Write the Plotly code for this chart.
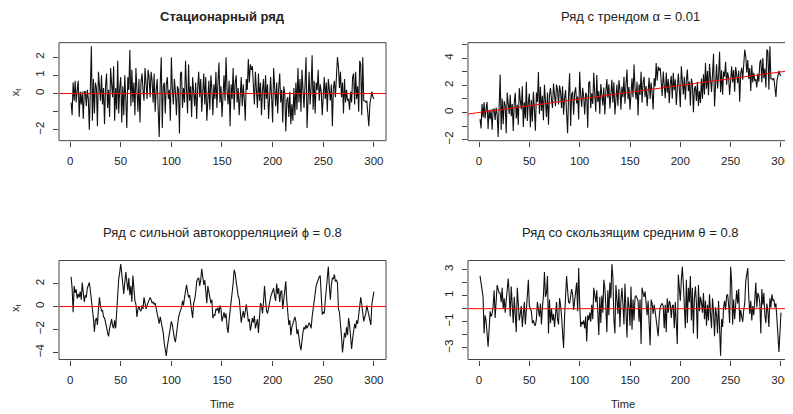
import plotly.graph_objects as go

# ---------------- data ----------------
time = list(range(1, 301))

stationary = [
    -0.5, -1.2, 0.6, -0.4, 0.7, -0.5, 0.2, 0.7, -1.3, 0.1,
    -0.6, 0.1, -1.4, 0.1, 0.1, -0.7, 0.2, -0.3, -2.0, 0.4,
    2.6, -1.5, 0.8, -1.1, 0.6, 0.3, -1.8, 1.2, 0.5, -0.4,
    1.0, -0.6, 0.3, -1.7, 0.4, 1.1, -0.8, 0.2, -1.3, 1.4,
    0.5, -0.2, 1.5, -1.5, 0.3, -0.9, 1.8, -1.1, 0.3, 0.9,
    -1.6, 0.4, -1.2, 1.0, -0.3, -1.9, 0.9, 0.2, 2.4, -0.7,
    1.3, -0.5, 0.6, -1.2, 1.4, 0.4, -1.0, 0.8, -1.6, 0.6,
    1.1, 0.2, -0.4, 1.4, 0.6, -0.3, 1.3, 0.9, -0.2, 1.2,
    0.7, -0.5, 1.1, -1.0, 0.2, 0.8, -0.9, -2.4, 0.5, 2.0,
    -1.9, 0.4, 0.6, -1.1, 0.5, 0.9, -0.3, 0.2, -1.5, 2.0,
    0.3, -0.6, 0.8, 0.1, -1.2, 0.4, 0.2, -2.2, 1.1, 1.2,
    -0.8, 0.3, -0.5, 1.8, 0.2, -1.1, 1.6, -0.4, 0.4, -1.3,
    0.9, 0.1, -0.7, 0.6, -1.4, 0.3, 1.2, -0.2, 0.8, -1.0,
    0.5, 1.1, -0.6, 0.9, -1.5, 0.2, 0.7, -0.9, 1.0, 0.3,
    -1.2, 0.5, -0.3, 1.2, -0.8, 0.6, 1.7, -0.5, 0.4, -1.3,
    0.3, 1.0, -0.4, 2.0, 0.2, -0.6, 0.7, -1.8, 0.5, -0.3,
    1.4, -0.9, 0.6, 1.0, -0.5, 0.3, -1.2, 0.4, 0.9, -0.7,
    0.5, -0.3, -1.5, 0.8, 0.2, 1.9, 0.6, 1.6, 1.3, 1.5,
    0.4, -0.6, 1.2, 0.3, -0.8, 1.1, -0.4, 0.6, -1.2, 0.2,
    0.8, -0.9, 1.0, -0.3, 0.5, -1.4, 0.4, 0.9, -0.2, -1.6,
    1.4, 0.1, -0.7, 0.6, -1.1, 0.3, 1.1, -0.5, 0.2, -1.6,
    0.4, 0.0, -2.1, -0.4, -0.2, -1.3, 0.1, -1.7, -0.6, -1.5,
    0.3, -1.2, 0.6, -0.9, 1.4, -0.5, 0.8, -1.0, 1.3, 0.2,
    -0.8, 0.5, 2.0, -1.9, 0.4, 1.2, -0.6, 0.3, 2.1, -0.9,
    0.7, -1.1, 0.6, 0.2, 1.3, -0.4, 0.5, 0.1, -1.2, 0.4,
    0.9, -0.3, 0.6, -1.0, 0.8, 0.2, -0.4, 0.5, -1.8, 0.3,
    0.7, -0.2, 0.9, 2.0, 1.5, 0.3, 1.2, -0.2, 0.6, -1.1,
    0.8, -0.5, 0.2, -0.4, -0.3, -0.9, 0.1, -0.5, 0.9, 1.1,
    -0.6, 1.2, -0.3, 0.4, -1.0, 1.8, 1.6, -1.2, 2.0, -0.4,
    -0.4, -0.5, -0.4, -1.2, -1.8, -0.6, -0.2, 0.1, -0.2, -0.3,
]

trend = [
    -0.49, -1.18, 0.63, -0.36, 0.75, -0.44, 0.27, 0.78, -1.21, 0.20,
    -0.49, 0.22, -1.27, 0.24, 0.25, -0.54, 0.37, -0.12, -1.81, 0.60,
    2.81, -1.28, 1.03, -0.86, 0.85, 0.56, -1.53, 1.48, 0.79, -0.10,
    1.31, -0.28, 0.63, -1.36, 0.75, 1.46, -0.43, 0.58, -0.91, 1.80,
    0.91, 0.22, 1.93, -1.06, 0.75, -0.44, 2.27, -0.62, 0.79, 1.40,
    -1.09, 0.92, -0.67, 1.54, 0.25, -1.34, 1.47, 0.78, 2.99, -0.10,
    1.91, 0.12, 1.23, -0.56, 2.05, 1.06, -0.33, 1.48, -0.91, 1.30,
    1.81, 0.92, 0.33, 2.14, 1.35, 0.46, 2.07, 1.68, 0.59, 2.00,
    1.51, 0.32, 1.93, -0.16, 1.05, 1.66, -0.03, -1.52, 1.39, 2.90,
    -0.99, 1.32, 1.53, -0.16, 1.45, 1.86, 0.67, 1.18, -0.51, 3.00,
    1.31, 0.42, 1.83, 1.14, -0.15, 1.46, 1.27, -1.12, 2.19, 2.30,
    0.31, 1.42, 0.63, 2.94, 1.35, 0.06, 2.77, 0.78, 1.59, -0.10,
    2.11, 1.32, 0.53, 1.84, -0.15, 1.56, 2.47, 1.08, 2.09, 0.30,
    1.81, 2.42, 0.73, 2.24, -0.15, 1.56, 2.07, 0.48, 2.39, 1.70,
    0.21, 1.92, 1.13, 2.64, 0.65, 2.06, 3.17, 0.98, 1.89, 0.20,
    1.81, 2.52, 1.13, 3.54, 1.75, 0.96, 2.27, -0.22, 2.09, 1.30,
    3.01, 0.72, 2.23, 2.64, 1.15, 1.96, 0.47, 2.08, 2.59, 1.00,
    2.21, 1.42, 0.23, 2.54, 1.95, 3.66, 2.37, 3.38, 3.09, 3.30,
    2.21, 1.22, 3.03, 2.14, 1.05, 2.96, 1.47, 2.48, 0.69, 2.10,
    2.71, 1.02, 2.93, 1.64, 2.45, 0.56, 2.37, 2.88, 1.79, 0.40,
    3.41, 2.12, 1.33, 2.64, 0.95, 2.36, 3.17, 1.58, 2.29, 0.50,
    2.51, 2.12, 0.03, 1.74, 1.95, 0.86, 2.27, 0.48, 1.59, 0.70,
    2.51, 1.02, 2.83, 1.34, 3.65, 1.76, 3.07, 1.28, 3.59, 2.50,
    1.51, 2.82, 4.33, 0.44, 2.75, 3.56, 1.77, 2.68, 4.49, 1.50,
    3.11, 1.32, 3.03, 2.64, 3.75, 2.06, 2.97, 2.58, 1.29, 2.90,
    3.41, 2.22, 3.13, 1.54, 3.35, 2.76, 2.17, 3.08, 0.79, 2.90,
    3.31, 2.42, 3.53, 4.64, 4.15, 2.96, 3.87, 2.48, 3.29, 1.60,
    3.51, 2.22, 2.93, 2.34, 2.45, 1.86, 2.87, 2.28, 3.69, 3.90,
    2.21, 4.02, 2.53, 3.24, 1.85, 4.66, 4.47, 1.68, 4.89, 2.50,
    2.51, 2.42, 2.53, 1.74, 1.15, 2.36, 2.77, 3.08, 2.79, 2.70,
]
alpha = 0.01

ar_series = [
    2.6, 1.6, -0.5, 1.8, 1.2, 1.5, 0.7, 1.1, 0.8, 1.3,
    0.6, 2.1, 1.2, 0.4, 1.0, 0.8, 1.6, 1.8, 2.1, 1.4,
    0.6, 0.1, -1.0, -2.2, -1.2, -1.0, -1.6, -0.2, 0.8, 0.1,
    -0.4, -0.3, -0.9, -1.0, -1.3, -1.8, -2.3, -2.6, -1.9, -1.5,
    -1.1, -1.7, -1.9, -1.2, -1.9, -0.5, 1.5, 2.4, 3.0, 3.7,
    2.9, 1.8, 1.1, 2.1, 3.0, 2.2, 1.4, 2.5, 1.0, 1.8,
    0.4, 2.7, 1.0, 0.5, 0.2, -0.9, -0.2, 0.0, -0.3, -0.4,
    0.1, -0.2, 0.8, 0.3, -0.2, 0.1, 0.3, 0.5, 0.8, 0.6,
    0.3, 0.4, 0.2, 0.3, -0.2, -0.8, -1.2, -1.5, -0.9, -1.3,
    -1.9, -2.3, -3.2, -3.9, -4.3, -3.5, -3.0, -2.6, -1.8, -1.3,
    -1.6, -2.4, -2.8, -3.1, -2.2, -1.4, -1.0, -0.6, -0.3, -0.1,
    0.5, 0.1, 0.8, 1.5, 1.9, 1.3, 0.8, 1.0, 0.2, -0.2,
    -1.0, 0.3, 0.6, 1.2, 2.2, 2.4, 2.5, 1.8, 2.3, 3.3,
    2.6, 1.9, 2.3, 1.0, 0.3, 1.8, 1.2, 0.9, 0.3, 0.6,
    -1.0, -0.7, -0.8, -0.2, -0.3, -0.1, -0.6, 0.1, -0.2, -1.3,
    -0.9, -0.5, -1.0, -0.6, -1.8, -2.3, -1.2, -0.4, 0.2, 0.8,
    2.0, 3.2, 2.9, 2.2, 1.4, 0.9, 0.7, -0.2, -1.4, -0.8,
    -0.4, -1.0, -0.3, 0.2, -0.5, -1.3, -1.1, -2.1, -1.6, -1.0,
    -1.4, -0.8, -1.9, -1.5, -1.1, -2.3, -0.7, 0.3, 0.1, -0.6,
    0.4, 1.8, 0.6, -0.4, -0.6, 0.0, 0.5, 0.8, 1.1, 1.4,
    1.6, 0.9, 0.5, 2.0, 1.1, 1.6, 0.4, 1.3, 1.4, -0.2,
    0.6, 1.2, 2.2, 0.5, -0.3, -1.6, -1.2, -2.5, -1.8, -1.5,
    -1.2, -0.9, -1.3, -2.4, -2.0, -2.8, -3.4, -3.8, -2.9, -2.2,
    -1.8, -2.0, -1.6, -1.9, -1.7, -1.4, -1.6, -1.9, -0.9, -0.2,
    0.7, 1.3, 1.8, 2.1, 2.4, 2.6, 2.7, 1.4, -0.7, -0.5,
    -0.6, 0.5, 1.7, 2.6, 3.5, 1.8, 0.6, 1.9, 2.5, 2.4,
    2.8, 2.2, 2.3, 2.1, -0.2, -0.5, -1.4, -2.6, -4.0, -3.3,
    -2.3, -2.7, -1.8, -2.5, -1.0, -1.6, -2.4, -3.7, -2.8, -2.3,
    -1.5, -1.9, -1.2, -1.5, -0.5, 0.1, 0.8, 0.2, -0.5, -1.3,
    -0.9, -0.6, 0.1, -0.4, -0.9, -1.2, -1.6, 0.2, 0.8, 1.3,
]

ma_series = [
    2.5, 1.9, 1.2, 0.9, -1.9, -0.5, -0.9, -1.8, -2.9, -1.6,
    -0.2, -0.6, -0.4, 0.2, 1.4, -0.7, 0.3, 1.8, 1.5, 1.2,
    1.2, 0.5, 1.6, 0.0, 0.8, -0.3, 0.6, 1.5, 2.3, 1.1,
    -0.6, 1.7, 0.4, -1.1, 0.9, -0.2, -1.8, 1.6, 0.2, -0.9,
    -0.4, 0.2, -1.4, 0.1, 0.5, -1.2, 0.3, 1.0, 2.2, 0.2,
    0.0, -0.2, -1.1, -0.9, -1.2, -1.3, -0.8, 0.5, -0.1, -0.6,
    0.4, -1.2, 0.1, 1.0, 2.8, 0.9, 1.2, 2.5, -1.9, 0.7,
    -1.1, 0.0, -0.9, -0.4, -1.4, -0.5, 0.5, -0.8, -1.2, 0.8,
    0.3, -0.6, -1.8, -3.0, -0.6, 1.0, 2.5, 1.4, 0.5, 0.4,
    0.9, 1.5, 1.1, -0.1, 0.6, 1.4, 2.0, -0.2, 3.1, 0.4,
    -1.4, -1.0, -1.2, -0.9, -1.5, -0.6, -2.5, -0.5, -0.9, -0.3,
    -1.0, 0.3, -0.8, 1.6, 1.2, 0.5, 1.4, -0.2, -2.0, 0.9,
    -1.1, 1.0, -0.3, 2.2, 1.6, 0.2, -1.8, 1.4, -0.5, 2.0,
    0.8, 3.4, 2.4, -0.8, -1.9, 1.8, 0.9, -0.4, 1.5, -1.4,
    0.6, 1.6, 0.3, -1.2, 1.9, -0.5, -2.2, 0.9, 0.2, -1.3,
    1.7, -1.6, 0.7, -0.9, 0.9, 1.0, 0.7, 0.6, -1.0, 0.7,
    -2.7, 1.6, 1.2, 0.9, 1.3, 0.4, -0.5, 0.6, -0.8, -2.8,
    0.7, 0.4, -0.4, 0.3, -0.2, -0.9, -1.6, -2.1, -0.7, 0.1,
    0.3, 0.4, 0.2, -1.5, 0.3, -1.8, 0.8, -0.3, 0.6, 0.4,
    -0.7, 0.2, 0.3, -1.5, 0.5, -1.0, -2.7, 2.6, 1.8, 0.6,
    2.2, 3.2, 1.9, 0.3, -1.5, 2.2, -1.1, 1.6, 0.5, 2.5,
    -0.9, 1.6, -1.9, 0.8, 1.7, 0.4, -2.3, 1.8, -0.2, 0.9,
    0.5, -0.3, 1.2, -0.8, 0.6, -1.3, 0.3, -0.9, 1.1, -0.4,
    -1.5, 0.8, -0.2, -2.1, 0.1, -0.5, -1.9, 0.6, -1.2, -3.6,
    -0.8, -1.4, 0.1, 0.6, -0.1, 1.0, 1.1, 0.3, -1.1, 3.2,
    2.0, -1.2, 0.7, -0.8, 0.3, 1.4, 0.4, 1.5, -1.0, -0.1,
    -0.6, -1.0, -0.1, 0.4, 2.1, 2.8, 3.1, 0.9, -0.4, 0.6,
    -0.9, 0.2, -0.5, 0.7, 2.0, 0.1, 1.2, 1.0, 0.4, -1.9,
    1.5, 0.3, 1.2, -0.5, -1.1, 0.4, -0.2, -1.4, 0.8, 0.1,
    1.1, 0.6, 0.7, 0.1, 0.4, -0.8, -2.4, -3.3, -1.8, -0.3,
]

titles = [
    "<b>Стационарный ряд</b>",
    "Ряд с трендом α = 0.01",
    "Ряд с сильной автокорреляцией ϕ = 0.8",
    "Ряд со скользящим средним θ = 0.8",
]
x_ticks = [0, 50, 100, 150, 200, 250, 300]
# labelled y ticks and unlabelled (skipped) y ticks for each panel
y_major = [[-2, 0, 1, 2], [-2, 0, 2, 4], [-4, -2, 0, 2], [-3, -1, 1, 3]]
y_minor = [[-1], [-1, 1, 3, 5], [], [-2, 0, 2]]

# ---------------- layout helpers ----------------
# the page body has an 8 px margin, so the figure is placed 8 px in
OFF = 8
W, H = 793 - OFF, 414 - OFF
FONT = "Liberation Sans, Arial, Helvetica, sans-serif"
AX = "#444444"
TXT = "#222222"


def px_x(p):
    return (p - OFF) / W


def px_y(p):
    return 1 - (p - OFF) / H


def rng(vals):
    lo, hi = min(vals), max(vals)
    d = (hi - lo) * 0.04
    return [lo - d, hi + d]


xr = rng(time)

# panel boxes in reference pixels: (left, right, top, bottom)
boxes = [
    (59, 386, 43, 142),
    (468, 793, 43, 142),
    (59, 386, 263, 363),
    (468, 793, 263, 363),
]
series = [stationary, trend, ar_series, ma_series]

fig = go.Figure()
shapes = []
annotations = []
layout = {}

for i, (vals, box) in enumerate(zip(series, boxes)):
    n = "" if i == 0 else str(i + 1)
    xa, ya = "x" + n, "y" + n
    l, r, t, b = box
    fig.add_trace(go.Scatter(x=time, y=vals, mode="lines",
                             line=dict(color="#111111", width=1.1),
                             xaxis=xa, yaxis=ya, showlegend=False,
                             hoverinfo="skip"))
    yr = rng(vals)
    layout["xaxis" + n] = dict(
        domain=[px_x(l), min(px_x(r), 1.0)], range=xr, anchor=ya,
        tickvals=x_ticks, ticks="outside", ticklen=5, tickcolor=AX,
        showline=False, showgrid=False, zeroline=False,
        tickfont=dict(family=FONT, size=11.5, color=TXT),
        ticklabelstandoff=5, ticklabeloverflow="allow",
    )
    layout["yaxis" + n] = dict(
        domain=[px_y(b), px_y(t)], range=yr, anchor=xa,
        tickvals=y_major[i],
        ticks="outside", ticklen=5, tickcolor=AX, tickangle=-90,
        minor=dict(tickmode="array", tickvals=y_minor[i], ticks="outside",
                   ticklen=5, tickcolor=AX, showgrid=False),
        showline=False, showgrid=False, zeroline=False,
        tickfont=dict(family=FONT, size=11.5, color=TXT),
        ticklabelstandoff=4,
    )
    # box around the plot region
    shapes.append(dict(type="rect", xref=xa + " domain", yref=ya + " domain",
                       x0=0, x1=1.01 if r >= 793 else 1, y0=0, y1=1,
                       line=dict(color=AX, width=1)))
    # reference line
    if i == 1:
        shapes.append(dict(type="line", xref=xa, yref=ya,
                           x0=xr[0], x1=xr[1], y0=alpha * xr[0], y1=alpha * xr[1],
                           line=dict(color="red", width=1)))
    else:
        shapes.append(dict(type="line", xref=xa + " domain", yref=ya,
                           x0=0, x1=1, y0=0, y1=0,
                           line=dict(color="red", width=1)))
    # title
    cx = (l + r) / 2 if i % 2 == 0 else 630
    ty = 17 if i < 2 else 235
    annotations.append(dict(text=titles[i], xref="paper", yref="paper",
                            x=px_x(cx), y=px_y(ty), showarrow=False,
                            xanchor="center", yanchor="middle",
                            font=dict(family=FONT, size=13, color=TXT)))

# axis titles
for yy in (93, 311):
    annotations.append(dict(text="x<sub>t</sub>", xref="paper", yref="paper",
                            x=px_x(16), y=px_y(yy), showarrow=False,
                            textangle=-90, xanchor="center", yanchor="middle",
                            font=dict(family=FONT, size=11, color=TXT)))
for xx in (222, 623):
    annotations.append(dict(text="Time", xref="paper", yref="paper",
                            x=px_x(xx), y=px_y(408), showarrow=False,
                            xanchor="center", yanchor="middle",
                            font=dict(family=FONT, size=11, color=TXT)))

fig.update_layout(
    width=W, height=H, margin=dict(l=0, r=0, t=0, b=0),
    paper_bgcolor="white", plot_bgcolor="white",
    shapes=shapes, annotations=annotations, **layout,
)

fig.write_html("out.html")
